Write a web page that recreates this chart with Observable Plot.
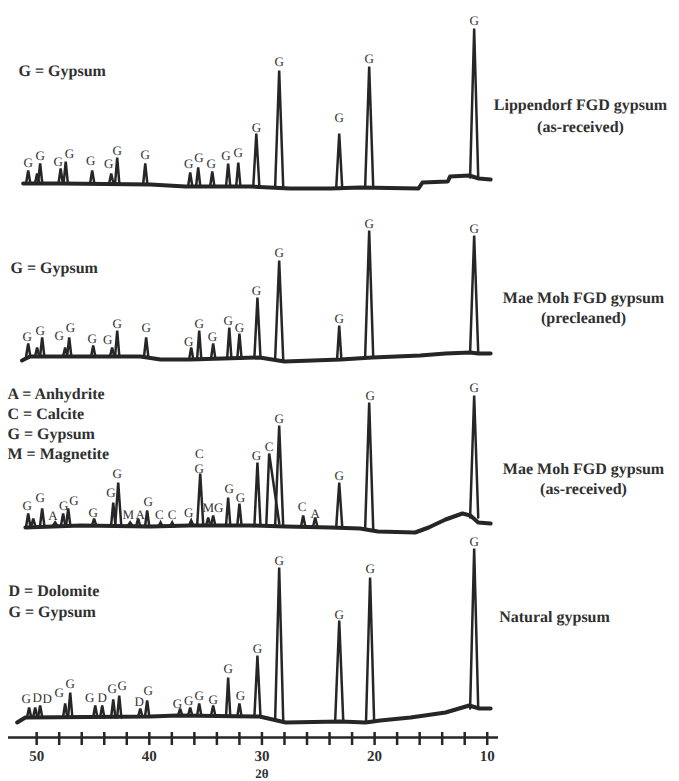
<!DOCTYPE html>
<html>
<head>
<meta charset="utf-8">
<script src="https://cdn.jsdelivr.net/npm/d3@7"></script>
<script src="https://cdn.jsdelivr.net/npm/@observablehq/plot@0.6"></script>
<style>
  html, body { margin: 0; padding: 0; background: #fff; }
  #chart svg { display: block; }
  #chart svg text { text-rendering: geometricPrecision; }
  #chart { opacity: 0.999; }
</style>
</head>
<body>
<div id="chart"></div>
<script>
// ---------- DATA (intensity in arbitrary units) ----------
const sampleNames = [
  ["Lippendorf FGD gypsum", "(as-received)"],
  ["Mae Moh FGD gypsum", "(precleaned)"],
  ["Mae Moh FGD gypsum", "(as-received)"],
  ["Natural gypsum"]
];
const legends = [
  ["G = Gypsum"],
  ["G = Gypsum"],
  ["A = Anhydrite", "C = Calcite", "G = Gypsum", "M = Magnetite"],
  ["D = Dolomite", "G = Gypsum"]
];
// vertical offset of each pattern (a.u.)
const offsets = [554, 380, 212, 19];

const xTicks = [10, 12, 14, 16, 18, 20, 22, 24, 26, 28, 30, 32, 34, 36, 38, 40, 42, 44, 46, 48, 50];
const xTickLabels = [50, 40, 30, 20, 10];
const xTitle = "2θ";

// baseline: [2θ, intensity]
const baseline1 = [[51.2,0],[47.9,0],[39.9,-1],[36.8,-3],[31.0,-3],[27.5,-5],[23.9,-5],[21.3,-4],[16.1,-5],[15.75,1],[13.5,2],[13.3,7],[11.6,8],[10.75,5],[9.7,4]];
const baseline2 = [[51.3,-3],[50.6,1],[40.8,1],[39.0,-2],[36.4,-2],[30.2,0],[28.0,-4],[23.0,-2],[20.2,0],[15.95,2],[13.7,4],[11.5,5],[10.8,4],[9.7,4]];
const baseline3 = [[51.0,-2],[46.1,0],[39.9,-1],[36.4,0],[31.0,0],[27.9,-1],[23.9,-2],[21.3,-3],[19.7,-6],[16.4,-7],[15.2,-2],[13.7,6],[12.2,12],[11.5,10],[10.8,3],[9.7,2]];
const baseline4 = [[51.73,-4],[51.0,1],[39.9,2],[37.5,3],[30.2,2],[27.9,-4],[23.0,-3],[20.8,-4],[19.5,-2],[16.8,1],[13.7,6],[11.6,13],[10.7,10],[9.7,10]];

// peaks: [2θ, apex intensity, foot intensity, (half width high-2θ side), (half width low-2θ side)]
const peaks1 = [[50.75,13,0],[49.96,10,0],[49.69,20,0],[47.87,15,0],[47.42,22,0],[45.07,13,0],[43.38,10,0],[42.85,26,0],[40.36,20,-1],[36.37,11,-3],[35.66,16,-3],[34.41,12,-3],[33.0,20,-3],[32.1,21,-3],[30.5,50,-3],[28.47,113,-4],[23.14,50,-5],[20.48,117,-4],[11.16,155,6]];
const peaks2 = [[50.75,14,1],[49.96,10,1],[49.51,20,1],[47.47,10,1],[47.11,20,1],[44.98,12,1],[43.3,10,1],[42.85,27,1],[40.28,20,1],[36.28,10,-2],[35.57,27,-2],[34.33,14,-1],[32.9,30,-1],[32.0,24,-1],[30.4,60,0],[28.47,97,-2],[23.14,32,-2],[20.48,127,0],[11.16,122,5]];
const peaks3 = [[50.75,12,-1],[50.3,7,-1],[49.51,17,0],[48.36,3,0],[47.65,12,0],[47.2,17,0],[44.9,7,0],[43.2,23,0],[42.76,43,0],[41.7,3,0],[40.99,7,-1],[40.19,15,-1],[39.0,3,-1],[37.97,3,-1],[36.28,5,0],[35.48,52,0],[34.77,8,0],[34.33,10,0],[33.0,28,0],[32.0,22,0],[30.4,63,0],[29.36,72,2,0.25,0.9],[28.47,100,-1],[26.34,10,-1],[25.27,8,-1],[23.14,43,-2],[20.48,123,-4],[11.16,130,8]];
const peaks4 = [[50.67,11,1],[50.13,11,1],[49.69,13,1],[47.47,15,1],[47.02,26,1],[44.8,13,1],[44.18,13,1],[43.2,19,1],[42.67,23,1],[40.8,10,2],[40.19,18,2],[37.26,10,3],[36.37,11,3],[35.57,15,3],[34.33,13,3],[33.0,41,2],[32.0,15,2],[30.4,63,2],[28.47,151,-2],[23.14,98,-3],[20.4,141,-3],[11.16,170,10]];

// phase labels: [2θ, intensity, letter]
const labels1 = [[50.75,21,"G"],[49.69,28,"G"],[48.1,22,"G"],[47.1,30,"G"],[45.2,23,"G"],[43.6,20,"G"],[42.85,33,"G"],[40.36,29,"G"],[36.5,20,"G"],[35.6,26,"G"],[34.5,20,"G"],[33.2,28,"G"],[32.1,31,"G"],[30.5,56,"G"],[28.47,122,"G"],[23.14,66,"G"],[20.48,125,"G"],[11.16,163,"G"]];
const labels2 = [[50.84,21,"G"],[49.69,27,"G"],[48.0,22,"G"],[47.0,30,"G"],[45.07,19,"G"],[43.7,18,"G"],[42.85,34,"G"],[40.28,30,"G"],[36.5,16,"G"],[35.57,34,"G"],[34.4,21,"G"],[33.0,37,"G"],[32.0,30,"G"],[30.5,67,"G"],[28.47,105,"G"],[23.14,39,"G"],[20.48,134,"G"],[11.16,129,"G"]];
const labels3 = [[50.84,20,"G"],[49.69,28,"G"],[48.55,10,"A"],[47.6,20,"G"],[46.7,25,"G"],[44.98,13,"G"],[43.4,33,"G"],[42.85,52,"G"],[41.87,11,"M"],[40.8,11,"A"],[40.1,24,"G"],[39.1,11,"C"],[37.97,11,"C"],[36.5,13,"G"],[35.57,57,"G"],[35.57,72,"C"],[34.77,18,"M"],[33.85,18,"G"],[32.9,37,"G"],[31.9,28,"G"],[30.5,70,"G"],[29.36,79,"C"],[28.47,107,"G"],[26.43,19,"C"],[25.27,12,"A"],[23.14,50,"G"],[20.4,130,"G"],[11.16,138,"G"]];
const labels4 = [[50.93,20,"G"],[49.96,21,"D"],[49.07,20,"D"],[48.0,26,"G"],[47.02,35,"G"],[45.3,21,"G"],[44.18,21,"D"],[43.3,30,"G"],[42.4,33,"G"],[40.9,17,"D"],[40.1,28,"G"],[37.5,15,"G"],[36.5,18,"G"],[35.57,23,"G"],[34.33,19,"G"],[33.0,50,"G"],[31.9,23,"G"],[30.4,70,"G"],[28.47,158,"G"],[23.14,104,"G"],[20.4,150,"G"],[11.16,177,"G"]];

// ---------- LAYOUT (styling, not data) ----------
const legendLayout = [ {y: 113, dx: 10, step: 20}, {y: 90, dx: 2, step: 20}, {y: 132, dx: -1, step: 20}, {y: 128, dx: 0, step: 21} ];
const nameLayout = [ {y: 79, dx: 82, step: 22}, {y: 60, dx: 85, step: 20}, {y: 57, dx: 85, step: 20}, {y: 102, dx: 56, step: 20} ];

const traces = [
  {base: baseline1, peaks: peaks1, labels: labels1},
  {base: baseline2, peaks: peaks2, labels: labels2},
  {base: baseline3, peaks: peaks3, labels: labels3},
  {base: baseline4, peaks: peaks4, labels: labels4}
];

// ---------- build mark tables ----------
const baseRows = [];
const peakRows = [];
const labelRows = [];
const legendRows = [];
const nameRows = [];
traces.forEach((t, i) => {
  const off = offsets[i];
  t.base.forEach(([x, y]) => baseRows.push({seg: `b${i}`, x, y: y + off}));
  t.peaks.forEach(([p, top, b, hl, hr], j) => {
    const h = top - b;
    const wl = hl ?? (h > 80 ? 0.36 : h > 40 ? 0.27 : 0.19);
    const wr = hr ?? wl;
    const seg = `p${i}-${j}`;
    peakRows.push({seg, x: p + wl, y: b + off});
    peakRows.push({seg, x: p, y: top + off});
    peakRows.push({seg, x: p - wr, y: b + off});
  });
  t.labels.forEach(([x, y, text]) => labelRows.push({x, y: y + off, text}));
  legends[i].forEach((text, k) => legendRows.push({y: legendLayout[i].y - k * legendLayout[i].step + off, text, dx: legendLayout[i].dx}));
  sampleNames[i].forEach((text, k) => nameRows.push({y: nameLayout[i].y - k * nameLayout[i].step + off, text, dx: nameLayout[i].dx}));
});

const serif = "'Liberation Serif', 'DejaVu Serif', serif";
const ink = "#262626";
const textInk = "#303030";

const chart = Plot.plot({
  width: 679,
  height: 781,
  marginLeft: 8,
  marginRight: 181,
  marginTop: 0,
  marginBottom: 44,
  style: {fontFamily: serif, background: "#fff"},
  x: {domain: [52.5, 9], axis: null},
  y: {domain: [0, 737], axis: null},
  marks: [
    Plot.line(baseRows, {x: "x", y: "y", z: "seg", stroke: ink, strokeWidth: 4, strokeLinejoin: "round", curve: "linear"}),
    Plot.line(peakRows, {x: "x", y: "y", z: "seg", stroke: ink, strokeWidth: 2.5, strokeLinejoin: "miter", strokeMiterlimit: 3, curve: "linear"}),
    Plot.text(labelRows, {x: "x", y: "y", text: "text", fontSize: 13, fill: textInk, lineAnchor: "middle", textAnchor: "middle"}),
    ...legendRows.map(r => Plot.text([r], {y: "y", text: "text", frameAnchor: "left", textAnchor: "start", lineAnchor: "middle", dx: r.dx, fontSize: 16, fontWeight: "bold", fill: textInk})),
    ...nameRows.map(r => Plot.text([r], {y: "y", text: "text", frameAnchor: "right", textAnchor: "middle", lineAnchor: "middle", dx: r.dx, fontSize: 16, fontWeight: "bold", fill: textInk})),
    Plot.ruleY([0], {stroke: ink, strokeWidth: 2.5}),
    Plot.ruleX(xTicks, {x: d => d, y1: -8, y2: 5, stroke: ink, strokeWidth: 2.5}),
    Plot.text(xTickLabels, {x: d => d, y: -19, text: d => String(d), fontSize: 15, fontWeight: "bold", fill: textInk, lineAnchor: "middle"}),
    Plot.text([xTitle], {x: 30, y: -36, text: d => d, fontSize: 13, fontWeight: "bold", fill: textInk, lineAnchor: "middle"})
  ]
});
document.getElementById("chart").append(chart);
</script>
</body>
</html>
